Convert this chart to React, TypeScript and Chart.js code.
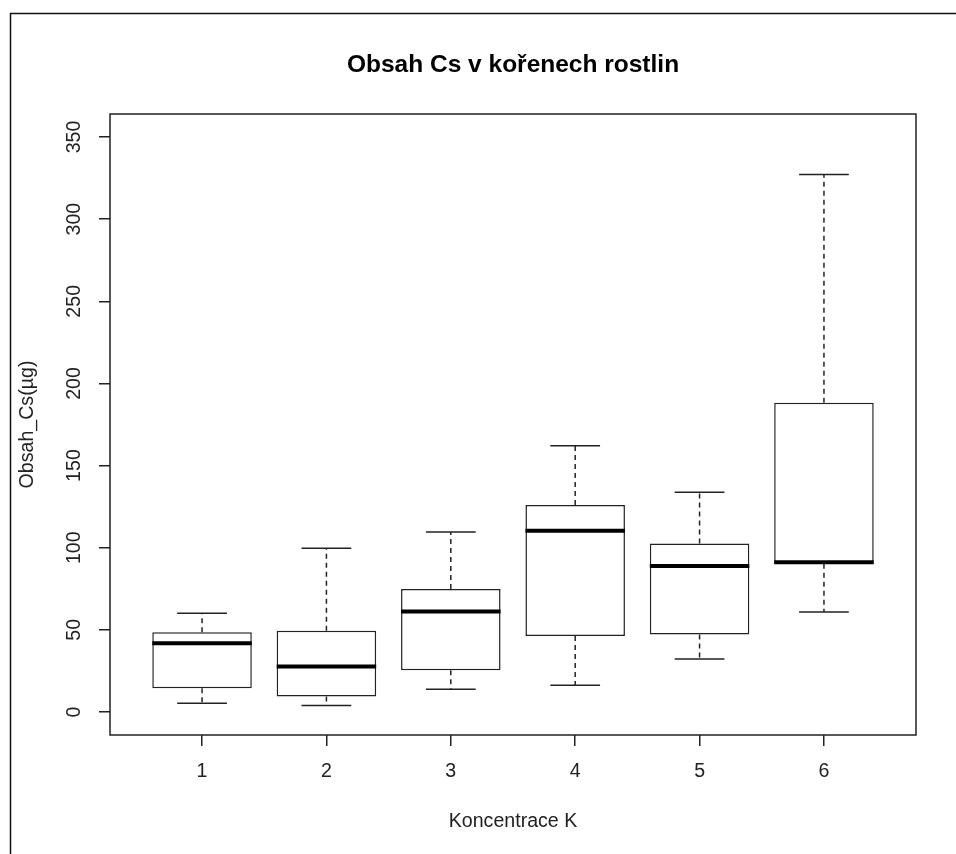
import React, { useEffect, useRef } from 'react';
import { Chart, registerables } from 'chart.js';

Chart.register(...registerables);

// ---- data ----
const categories = [1, 2, 3, 4, 5, 6];
const categoryLabels = ['1', '2', '3', '4', '5', '6'];
const whiskerLow = [5.3, 3.9, 13.8, 16.3, 32.3, 60.9];
const quartile1 = [14.4, 9.4, 25.4, 46.3, 47.2, 90.2];
const medians = [41.9, 27.7, 61.2, 110.3, 88.8, 91.2];
const quartile3 = [48.6, 49.4, 74.8, 126.0, 102.6, 188.3];
const whiskerHigh = [60.1, 99.6, 109.5, 162.1, 133.7, 327.1];
const yTickValues = [0, 50, 100, 150, 200, 250, 300, 350];
const yRange = [-14, 364];
const xRange = [0.26, 6.74];
const titleText = 'Obsah Cs v kořenech rostlin';
const xTitleText = 'Koncentrace K';
const yTitleText = 'Obsah_Cs(µg)';

const FONT = "'Liberation Sans', Arial, sans-serif";
const INK = '#222';

const framePlugin = {
  id: 'frame',
  beforeDraw(chart: any) {
    const { ctx, width, height } = chart;
    ctx.save();
    ctx.fillStyle = '#fff';
    ctx.fillRect(0, 0, width, height);
    ctx.strokeStyle = '#111';
    ctx.lineWidth = 1.5;
    ctx.beginPath();
    ctx.moveTo(10.5, height);
    ctx.lineTo(10.5, 13.5);
    ctx.lineTo(width, 13.5);
    ctx.stroke();
    ctx.restore();
  },
};

const boxExtrasPlugin = {
  id: 'boxExtras',
  afterDatasetsDraw(chart: any) {
    const { ctx, chartArea } = chart;
    const yScale = chart.scales.y;
    const meta = chart.getDatasetMeta(0);
    ctx.save();
    meta.data.forEach((bar: any, i: number) => {
      const { x, width } = bar.getProps(['x', 'width'], true);
      const yLo = yScale.getPixelForValue(whiskerLow[i]);
      const yHi = yScale.getPixelForValue(whiskerHigh[i]);
      const yQ1 = yScale.getPixelForValue(quartile1[i]);
      const yQ3 = yScale.getPixelForValue(quartile3[i]);
      const yMed = yScale.getPixelForValue(medians[i]);
      ctx.strokeStyle = INK;
      ctx.lineWidth = 1.5;
      ctx.setLineDash([5, 4]);
      ctx.beginPath();
      ctx.moveTo(x, yQ3);
      ctx.lineTo(x, yHi);
      ctx.moveTo(x, yQ1);
      ctx.lineTo(x, yLo);
      ctx.stroke();
      ctx.setLineDash([]);
      ctx.beginPath();
      ctx.moveTo(x - width / 4, yHi);
      ctx.lineTo(x + width / 4, yHi);
      ctx.moveTo(x - width / 4, yLo);
      ctx.lineTo(x + width / 4, yLo);
      ctx.stroke();
      ctx.strokeStyle = '#000';
      ctx.lineWidth = 4;
      ctx.beginPath();
      ctx.moveTo(x - width / 2, yMed);
      ctx.lineTo(x + width / 2, yMed);
      ctx.stroke();
    });
    ctx.strokeStyle = INK;
    ctx.lineWidth = 1.5;
    ctx.strokeRect(chartArea.left, chartArea.top, chartArea.right - chartArea.left, chartArea.bottom - chartArea.top);
    ctx.restore();
  },
};

export default function App() {
  const canvasRef = useRef<HTMLCanvasElement | null>(null);

  useEffect(() => {
    if (!canvasRef.current) return;
    const tickFont = { family: FONT, size: 19.6 };
    const chart = new Chart(canvasRef.current, {
      type: 'bar',
      data: {
        datasets: [
          {
            label: 'box',
            data: categories.map((c, i) => ({ x: c, y: [quartile1[i], quartile3[i]] })) as any,
            backgroundColor: '#ffffff',
            borderColor: INK,
            borderWidth: 1.5,
            borderSkipped: false,
            barPercentage: 0.8,
            categoryPercentage: 1,
          },
        ],
      },
      options: {
        responsive: false,
        devicePixelRatio: 1,
        animation: false,
        events: [],
        layout: { padding: { left: 0, top: 0, right: 40, bottom: 0 } },
        plugins: {
          legend: { display: false },
          tooltip: { enabled: false },
          title: {
            display: true,
            text: titleText,
            color: '#000',
            fullSize: false,
            font: { family: FONT, size: 24.5, weight: 'bold' },
            padding: { top: 50.3, bottom: 34.3 },
          },
        },
        scales: {
          x: {
            type: 'linear',
            offset: false,
            min: xRange[0],
            max: xRange[1],
            grid: { display: true, offset: false, drawOnChartArea: false, drawTicks: true, tickLength: 11, color: INK, lineWidth: 1.5 },
            border: { display: false },
            ticks: {
              autoSkip: false,
              minRotation: 0,
              maxRotation: 0,
              padding: 14.3,
              color: INK,
              font: tickFont,
              callback: (value: any) => {
                const idx = categories.indexOf(Number(value));
                return idx >= 0 ? categoryLabels[idx] : '';
              },
            },
            title: { display: true, text: xTitleText, color: INK, font: tickFont, padding: { top: 0, bottom: 20.8 } },
            afterBuildTicks: (scale: any) => {
              scale.ticks = categories.map((v) => ({ value: v }));
            },
            afterFit: (scale: any) => {
              scale.height = 119;
            },
          },
          y: {
            type: 'linear',
            min: yRange[0],
            max: yRange[1],
            grid: { display: true, drawOnChartArea: false, drawTicks: true, tickLength: 11, color: INK, lineWidth: 1.5 },
            border: { display: false },
            ticks: {
              autoSkip: false,
              minRotation: 90,
              maxRotation: 90,
              crossAlign: 'center',
              padding: 8,
              color: INK,
              font: tickFont,
              callback: (value: any) => String(value),
            },
            title: { display: true, text: yTitleText, color: INK, font: tickFont, padding: { top: 15.5, bottom: 0 } },
            afterBuildTicks: (scale: any) => {
              scale.ticks = yTickValues.map((v) => ({ value: v }));
            },
            afterFit: (scale: any) => {
              scale.width = 110;
            },
          },
        },
      } as any,
      plugins: [framePlugin, boxExtrasPlugin],
    });
    return () => chart.destroy();
  }, []);

  return (
    <div style={{ position: 'absolute', left: 0, top: 0, width: 956, height: 854, background: '#fff' }}>
      <canvas ref={canvasRef} width={956} height={854} style={{ display: 'block', width: 956, height: 854 }} />
    </div>
  );
}
